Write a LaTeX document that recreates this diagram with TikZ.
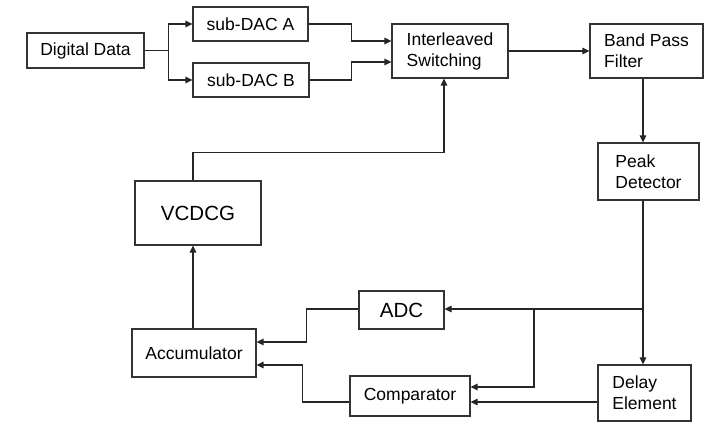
\documentclass[tikz,border=0pt]{standalone}
\usepackage{fontspec}
\setmainfont{Liberation Sans}
\usetikzlibrary{arrows.meta}
\tikzset{>={Triangle[length=7bp,width=6.5bp]}}
\tikzset{blk/.style={draw=black!80, line width=1.1bp, align=left, inner sep=0pt,
  font=\fontsize{17.5bp}{21bp}\selectfont},
  bigblk/.style={blk, font=\fontsize{20.5bp}{24bp}\selectfont},
  wire/.style={draw=black!85, line width=1.2bp}}

\begin{document}
\begin{tikzpicture}[x=1bp, y=-1bp]
\useasboundingbox (0,0) rectangle (720,439);
% top row
\node[blk, minimum width=117bp, minimum height=35bp] (data) at (85.5,50.5) {Digital Data};
\node[blk, minimum width=115bp, minimum height=34bp] (dacA) at (250.5,24) {sub-DAC A};
\node[blk, minimum width=116bp, minimum height=34bp] (dacB) at (251,80) {sub-DAC B};
\node[blk, minimum width=116bp, minimum height=54bp] (inter) at (450,51) {Interleaved\\Switching};
\node[blk, minimum width=113bp, minimum height=54bp] (bpf) at (646.5,51) {Band Pass\\Filter};
\node[blk, minimum width=101bp, minimum height=57bp] (peak) at (648.5,171.5) {Peak\\Detector};
% feedback loop
\node[bigblk, minimum width=126bp, minimum height=64bp] (vcdcg) at (198,213) {VCDCG};
\node[blk, minimum width=124bp, minimum height=48bp] (acc) at (194,353) {Accumulator};
\node[bigblk, minimum width=85bp, minimum height=38bp] (adc) at (401.5,310) {ADC};
\node[blk, minimum width=120bp, minimum height=40bp] (comp) at (410,396) {Comparator};
\node[blk, minimum width=93bp, minimum height=56bp] (delay) at (644.5,393) {Delay\\Element};
\coordinate (bus) at (643,309);
\coordinate (tap) at (534,309);
% \draw[red] (bus) circle (2);
\draw[wire, ->] (data.east) -- ++(24,0) |- (dacA.west);
\draw[wire, ->] (data.east) -- ++(24,0) |- (dacB.west);
\draw[wire, ->] (dacA.east) -- ++(43,0) |- ([yshift=10bp]inter.west);
\draw[wire, ->] (dacB.east) -- ++(42,0) |- ([yshift=-11bp]inter.west);
\draw[wire, ->] (inter.east) -- (bpf.west);
\draw[wire, ->] (bpf.south -| bus) -- (peak.north -| bus);
\draw[wire, ->] (peak.south -| bus) -- (delay.north -| bus);
\draw[wire, ->] (bus) -- (adc.east |- bus);
\draw[wire, ->] (tap) |- ([yshift=9bp]comp.east);
\draw[wire, ->] ([yshift=-6bp]delay.west |- comp.east) -- ([yshift=-6bp]comp.east);
\draw[wire, ->] (adc.west |- bus) -- ++(-52,0) |- ([yshift=11bp]acc.east);
\draw[wire, ->] ([yshift=-6bp]comp.west) -- ++(-47,0) |- ([yshift=-12bp]acc.east);
\draw[wire, ->] ([xshift=-1bp]acc.north) -- ([xshift=-1bp]acc.north |- vcdcg.south);
\draw[wire, ->] ([xshift=-1bp]acc.north |- vcdcg.north) -- ++(0,-28) -| ([xshift=-6bp]inter.south);
\end{tikzpicture}
\end{document}
